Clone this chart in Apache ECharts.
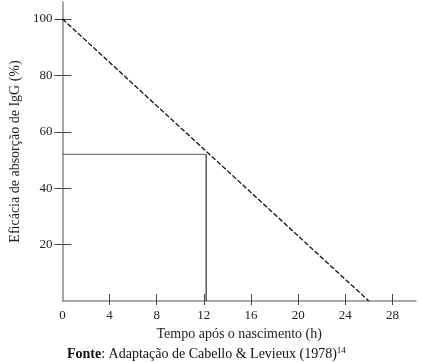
<!DOCTYPE html>
<html><head><meta charset="utf-8">
<script src="https://cdn.jsdelivr.net/npm/echarts@6/dist/echarts.min.js"></script>
<style>html,body{margin:0;padding:0;background:#fff}#c{width:421px;height:362px}</style>
</head><body><div id="c"></div>
<script>
const xTicks = [0, 4, 8, 12, 16, 20, 24, 28];
const yTicks = [20, 40, 60, 80, 100];
const trendX = [0, 26];
const trendY = [100, 0];
const guideHX = [0, 12.2];
const guideHY = [52, 52];
const guideVX = [12.2, 12.2];
const guideVY = [52, 0];
const xName = 'Tempo após o nascimento (h)';
const yName = 'Eficácia de absorção de IgG (%)';

const zip = (a, b) => a.map((v, i) => [v, b[i]]);
const font = '"Liberation Serif", "Times New Roman", serif';
const chart = echarts.init(document.getElementById('c'), null, {renderer: 'canvas'});
const axisCol = '#8a8a8a', tickCol = '#444';
const xBase = {type: 'value', min: 0, max: 30, position: 'bottom'};
const yBase = {type: 'value', min: 0, max: 106, position: 'left'};
chart.setOption({
  animation: false,
  backgroundColor: '#fff',
  title: {
    text: '{b|Fonte}: Adaptação de Cabello & Levieux (1978){s|14}',
    left: 62, top: 341,
    textStyle: {
      fontFamily: font, fontSize: 14, fontWeight: 'normal', color: '#111',
      rich: {
        b: {fontFamily: font, fontSize: 14, fontWeight: 'bold', color: '#111'},
        s: {fontFamily: font, fontSize: 9, color: '#111', padding: [0, 0, 8, 0]}
      }
    }
  },
  grid: {left: 62, top: 2, width: 354, height: 299, containLabel: false},
  xAxis: [
    Object.assign({}, xBase, {
      name: xName, nameLocation: 'middle', nameGap: 25,
      nameTextStyle: {fontFamily: font, fontSize: 14, color: '#222'},
      axisLine: {show: true, onZero: false, lineStyle: {color: axisCol, width: 1.5}},
      axisTick: {show: true, inside: false, length: 4, lineStyle: {color: tickCol}, customValues: xTicks.slice(1)},
      axisLabel: {show: true, margin: 8, fontFamily: font, fontSize: 13, color: '#222', customValues: xTicks},
      splitLine: {show: false}
    }),
    Object.assign({}, xBase, {
      axisLine: {show: false},
      axisTick: {show: true, inside: true, length: 7, lineStyle: {color: tickCol}, customValues: xTicks.slice(1)},
      axisLabel: {show: false},
      splitLine: {show: false}
    })
  ],
  yAxis: [
    Object.assign({}, yBase, {
      name: yName, nameLocation: 'middle', nameGap: 32,
      nameTextStyle: {fontFamily: font, fontSize: 14, color: '#222'},
      axisLine: {show: true, onZero: false, lineStyle: {color: axisCol, width: 1.5}},
      axisTick: {show: true, inside: false, length: 8, lineStyle: {color: tickCol}, customValues: yTicks},
      axisLabel: {show: true, margin: 10, fontFamily: font, fontSize: 13, color: '#222', customValues: yTicks},
      splitLine: {show: false}
    }),
    Object.assign({}, yBase, {
      axisLine: {show: false},
      axisTick: {show: true, inside: true, length: 9, lineStyle: {color: tickCol}, customValues: yTicks},
      axisLabel: {show: false},
      splitLine: {show: false}
    })
  ],
  series: [
    {type: 'line', data: zip(guideHX, guideHY), symbol: 'none', lineStyle: {color: '#777', width: 1.2}},
    {type: 'line', data: zip(guideVX, guideVY), symbol: 'none', lineStyle: {color: '#333', width: 1.2}},
    {type: 'line', data: zip(trendX, trendY), symbol: 'none', lineStyle: {color: '#111', width: 1.3, type: [5, 2]}}
  ]
});
</script></body></html>
